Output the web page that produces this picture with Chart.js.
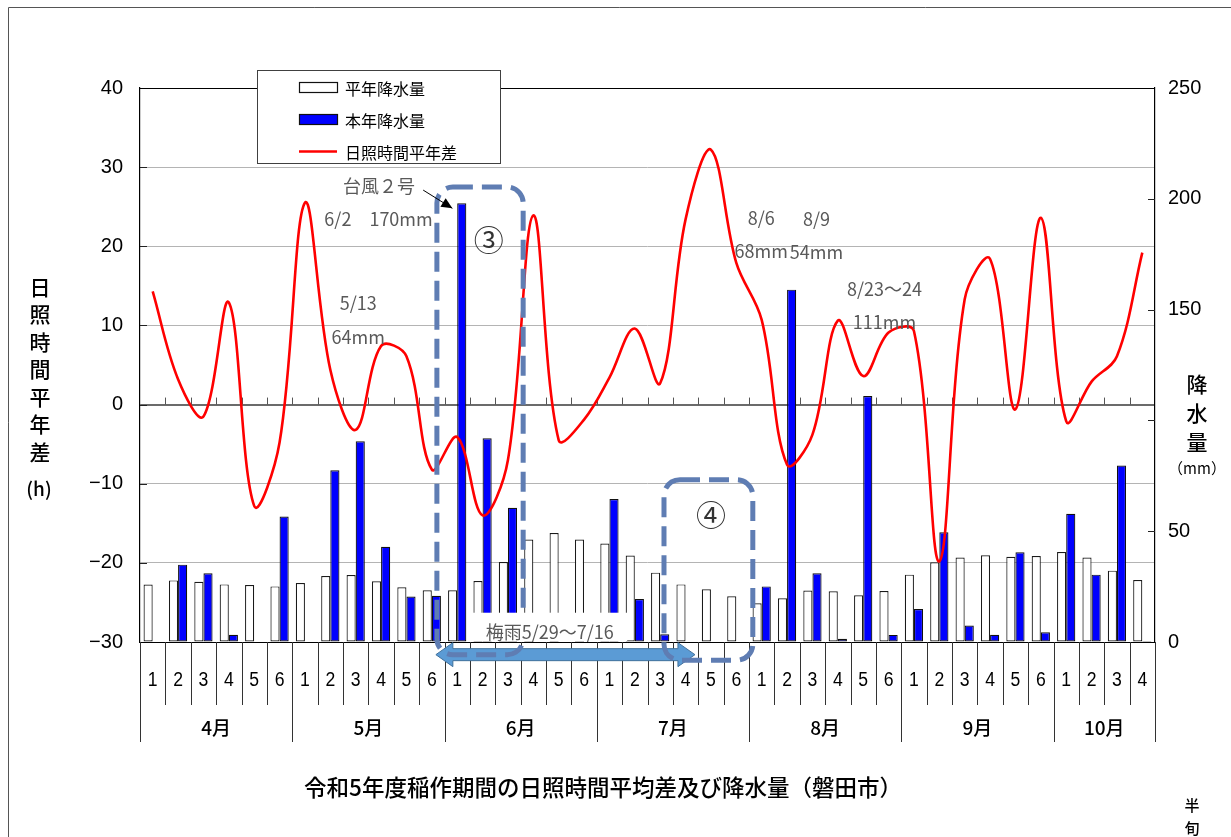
<!DOCTYPE html>
<html lang="ja">
<head>
<meta charset="utf-8">
<title>令和5年度稲作期間の日照時間平均差及び降水量（磐田市）</title>
<script src="https://cdn.jsdelivr.net/npm/chart.js@4.4.1/dist/chart.umd.min.js"></script>
<style>
  html, body { margin: 0; padding: 0; background: #ffffff; }
  #wrap { width: 1231px; height: 837px; position: relative; overflow: hidden; }
  canvas { display: block; }
</style>
</head>
<body>
<div id="wrap"><canvas id="chart" width="1231" height="837"></canvas></div>
<script>
// ---- data: half-month periods (半旬) from April to October ----
const months = ['4月', '5月', '6月', '7月', '8月', '9月', '10月'];
const halvesPerMonth = [6, 6, 6, 6, 6, 6, 4];
const halfLabels = [
  '1','2','3','4','5','6',
  '1','2','3','4','5','6',
  '1','2','3','4','5','6',
  '1','2','3','4','5','6',
  '1','2','3','4','5','6',
  '1','2','3','4','5','6',
  '1','2','3','4'
];
// normal-year precipitation (mm)
const normalRain = [
  25.9, 27.8, 27.2, 26.0, 25.7, 25.1,
  26.6, 29.8, 30.2, 27.4, 24.7, 23.3,
  23.3, 27.5, 36.1, 46.2, 49.2, 46.2,
  44.4, 39.0, 31.3, 26.0, 23.8, 20.6,
  17.5, 19.7, 23.2, 22.9, 21.1, 23.0,
  30.4, 36.0, 38.1, 39.1, 38.5, 38.8,
  40.6, 38.1, 32.2, 28.0
];
// this year's precipitation (mm)
const thisYearRain = [
  0, 34.9, 31.0, 3.3, 0, 56.6,
  0, 77.5, 90.6, 43.0, 20.5, 20.9,
  198, 91.9, 60.6, 0, 0, 0,
  64.5, 19.4, 3.5, 0, 0, 0,
  25.1, 159, 31.0, 1.5, 111, 3.2,
  14.9, 49.5, 7.4, 3.3, 40.5, 4.4,
  57.9, 30.4, 79.6, 0.5
];
// sunshine hours, difference from normal (h)
const sunshineDiff = [
  14.3, 3.2, -1.5, 12.9, -12.8, -4.8,
  25.5, 4.4, -3.2, 7.4, 6.1, -8.2,
  -4.1, -14.0, -7.0, 23.9, -4.5, -1.9,
  3.4, 9.6, 2.7, 23.4, 32.2, 17.9,
  10.7, -7.6, -3.8, 10.6, 3.6, 9.1,
  9.3, -19.8, 13.3, 18.4, -0.6, 23.6,
  -2.1, 2.9, 6.1, 19.2
];
const sunshineTicks = { min: -30, max: 40, step: 10 };
const rainTicks = { min: 0, max: 250, step: 50 };
// the 100 mm label is left out: the axis title sits there
const rainTickLabels = { 0: '0', 50: '50', 150: '150', 200: '200', 250: '250' };

const seriesNames = { normal: '平年降水量', current: '本年降水量', sunshine: '日照時間平年差' };

const FONT_JP = '"Noto Sans CJK JP", "Noto Sans", sans-serif';
const FONT_NUM = '"Liberation Sans", Arial, sans-serif';
const NOTE_GRAY = '#595959';
const BOX_BLUE = '#5f7db3';

// text notes placed in chart units: [category position, hours]
const notes = [
  { text: '台風２号', at: [8.92, 27.6] },
  { text: '6/2　170mm', at: [8.90, 23.4] },
  { text: '5/13', at: [8.10, 12.8] },
  { text: '64mm', at: [8.10, 8.5] },
  { text: '8/6', at: [23.98, 23.6] },
  { text: '68mm', at: [23.98, 19.4] },
  { text: '8/9', at: [26.16, 23.4] },
  { text: '54mm', at: [26.16, 19.2] },
  { text: '8/23〜24', at: [28.84, 14.6] },
  { text: '111mm', at: [28.84, 10.4] }
];

function roundRectPath(ctx, x, y, w, h, r) {
  ctx.beginPath();
  ctx.moveTo(x + r, y);
  ctx.lineTo(x + w - r, y);
  ctx.arcTo(x + w, y, x + w, y + r, r);
  ctx.lineTo(x + w, y + h - r);
  ctx.arcTo(x + w, y + h, x + w - r, y + h, r);
  ctx.lineTo(x + r, y + h);
  ctx.arcTo(x, y + h, x, y + h - r, r);
  ctx.lineTo(x, y + r);
  ctx.arcTo(x, y, x + r, y, r);
  ctx.closePath();
}

const decor = {
  id: 'decor',
  beforeDatasetsDraw(chart) {
    const { ctx, chartArea: a, scales } = chart;
    const cw = (a.right - a.left) / halfLabels.length;
    const y0 = scales.y.getPixelForValue(0);
    ctx.save();
    ctx.strokeStyle = '#555';
    ctx.lineWidth = 1;
    for (let i = 1; i < halfLabels.length; i++) {
      const x = Math.round(a.left + i * cw) + 0.5;
      ctx.beginPath(); ctx.moveTo(x, y0); ctx.lineTo(x, y0 - 7); ctx.stroke();
    }
    ctx.restore();
  },
  afterDraw(chart) {
    const { ctx, chartArea: a, scales } = chart;
    const ys = scales.y, yr = scales.y1, xs = scales.x;
    const n = halfLabels.length;
    const cw = (a.right - a.left) / n;
    const cx = c => xs.getPixelForValue(0) + c * cw;
    const hy = v => ys.getPixelForValue(v);

    ctx.save();
    // plot frame: top and bottom edges
    ctx.strokeStyle = '#000';
    ctx.lineWidth = 1.2;
    ctx.beginPath();
    ctx.moveTo(a.left, Math.round(a.top) + 0.5); ctx.lineTo(a.right, Math.round(a.top) + 0.5);
    ctx.moveTo(a.left, Math.round(a.bottom) + 0.5); ctx.lineTo(a.right, Math.round(a.bottom) + 0.5);
    ctx.stroke();

    // inner ticks on both value axes
    ctx.lineWidth = 1;
    ctx.strokeStyle = '#222';
    for (let v = sunshineTicks.min + sunshineTicks.step; v < sunshineTicks.max; v += sunshineTicks.step) {
      const y = Math.round(hy(v)) + 0.5;
      ctx.beginPath(); ctx.moveTo(a.left, y); ctx.lineTo(a.left + 7, y); ctx.stroke();
    }
    for (let v = rainTicks.min + rainTicks.step; v < rainTicks.max; v += rainTicks.step) {
      const y = Math.round(yr.getPixelForValue(v)) + 0.5;
      ctx.beginPath(); ctx.moveTo(a.right - 7, y); ctx.lineTo(a.right, y); ctx.stroke();
    }

    // category table under the plot
    const rowMid = a.bottom + 63;
    const rowEnd = a.bottom + 100;
    ctx.strokeStyle = '#333';
    ctx.lineWidth = 1;
    const monthEdges = new Set([0]);
    let acc = 0;
    halvesPerMonth.forEach(k => { acc += k; monthEdges.add(acc); });
    for (let i = 0; i <= n; i++) {
      const x = Math.round(a.left + i * cw) + 0.5;
      ctx.beginPath();
      ctx.moveTo(x, a.bottom);
      ctx.lineTo(x, monthEdges.has(i) ? rowEnd : rowMid);
      ctx.stroke();
    }
    ctx.fillStyle = '#000';
    ctx.textAlign = 'center';
    ctx.textBaseline = 'middle';
    ctx.font = '20px ' + FONT_NUM;
    halfLabels.forEach((lab, i) => {
      ctx.save();
      ctx.translate(cx(i), a.bottom + 38);
      ctx.scale(0.88, 1);
      ctx.fillText(lab, 0, 0);
      ctx.restore();
    });
    ctx.font = '500 19px ' + FONT_JP;
    let start = 0;
    months.forEach((m, k) => {
      const mid = a.left + (start + halvesPerMonth[k] / 2) * cw;
      ctx.fillText(m, mid, a.bottom + 86);
      start += halvesPerMonth[k];
    });

    // legend box
    const lg = { x: 257.5, y: 70.5, w: 243, h: 93 };
    ctx.fillStyle = '#fff';
    ctx.fillRect(lg.x, lg.y, lg.w, lg.h);
    ctx.strokeStyle = '#404040';
    ctx.strokeRect(lg.x, lg.y, lg.w, lg.h);
    const ds = chart.data.datasets;
    const byLabel = l => ds.find(d => d.label === l);
    const legendRows = [seriesNames.normal, seriesNames.current, seriesNames.sunshine];
    ctx.textAlign = 'left';
    ctx.font = '16px ' + FONT_JP;
    legendRows.forEach((lab, r) => {
      const d = byLabel(lab);
      const y = lg.y + 17 + r * 32;
      if (d.type === 'line') {
        ctx.strokeStyle = d.borderColor; ctx.lineWidth = 2.5;
        ctx.beginPath(); ctx.moveTo(299, y); ctx.lineTo(337, y); ctx.stroke();
      } else {
        ctx.fillStyle = d.backgroundColor;
        ctx.fillRect(299.5, y - 5, 38, 10);
        ctx.strokeStyle = '#111'; ctx.lineWidth = 1.2;
        ctx.strokeRect(299.5, y - 5, 38, 10);
      }
      ctx.fillStyle = '#000';
      ctx.fillText(lab, 345, y + 1);
    });

    // rainy-season arrow
    const arL = cx(11.16), arR = cx(21.37), arY = hy(-31.6);
    const hl = 17, hh = 12, sh = 6;
    ctx.beginPath();
    ctx.moveTo(arL, arY);
    ctx.lineTo(arL + hl, arY - hh); ctx.lineTo(arL + hl, arY - sh);
    ctx.lineTo(arR - hl, arY - sh); ctx.lineTo(arR - hl, arY - hh);
    ctx.lineTo(arR, arY);
    ctx.lineTo(arR - hl, arY + hh); ctx.lineTo(arR - hl, arY + sh);
    ctx.lineTo(arL + hl, arY + sh); ctx.lineTo(arL + hl, arY + hh);
    ctx.closePath();
    ctx.fillStyle = '#5b9bd5';
    ctx.fill();
    ctx.strokeStyle = '#41719c'; ctx.lineWidth = 1;
    ctx.stroke();

    // dashed outlines around periods ③ and ④
    ctx.setLineDash([20, 9]);
    ctx.lineWidth = 5;
    ctx.strokeStyle = BOX_BLUE;
    const b3 = { l: cx(11.2), r: cx(14.6), t: hy(27.5), b: hy(-31.6) };
    roundRectPath(ctx, b3.l, b3.t, b3.r - b3.l, b3.b - b3.t, 16); ctx.stroke();
    const b4 = { l: cx(20.15), r: cx(23.65), t: hy(-9.5), b: hy(-32.3) };
    roundRectPath(ctx, b4.l, b4.t, b4.r - b4.l, b4.b - b4.t, 16); ctx.stroke();
    ctx.setLineDash([]);

    ctx.fillStyle = '#333';
    ctx.textAlign = 'center';
    ctx.font = '30px ' + FONT_JP;
    ctx.fillText('③', cx(13.24), hy(20.9));
    ctx.fillText('④', cx(22.0), hy(-13.9));

    // rainy season label with white backing
    const tx = cx(15.65), ty = hy(-28.8);
    ctx.fillStyle = '#fff';
    ctx.fillRect(cx(12.45), hy(-26.3), cx(18.7) - cx(12.45), a.bottom - hy(-26.3) - 1);
    ctx.fillStyle = NOTE_GRAY;
    ctx.font = '18px ' + FONT_JP;
    ctx.fillText('梅雨5/29〜7/16', tx, ty);

    // text notes
    notes.forEach(nt => ctx.fillText(nt.text, cx(nt.at[0]), hy(nt.at[1])));

    // pointer from the typhoon note to the June bar
    const p0 = { x: cx(10.66), y: hy(27.1) }, p1 = { x: cx(11.81), y: hy(24.8) };
    ctx.strokeStyle = '#000'; ctx.lineWidth = 1;
    ctx.beginPath(); ctx.moveTo(p0.x, p0.y); ctx.lineTo(p1.x, p1.y); ctx.stroke();
    const ang = Math.atan2(p1.y - p0.y, p1.x - p0.x);
    ctx.beginPath();
    ctx.moveTo(p1.x, p1.y);
    ctx.lineTo(p1.x - 11 * Math.cos(ang) + 5 * Math.sin(ang), p1.y - 11 * Math.sin(ang) - 5 * Math.cos(ang));
    ctx.lineTo(p1.x - 11 * Math.cos(ang) - 5 * Math.sin(ang), p1.y - 11 * Math.sin(ang) + 5 * Math.cos(ang));
    ctx.closePath();
    ctx.fillStyle = '#000'; ctx.fill();

    // axis titles
    ctx.fillStyle = '#000';
    ctx.font = '500 21px ' + FONT_JP;
    Array.from('日照時間平年差').forEach((ch, i) => ctx.fillText(ch, 40, 287 + i * 27.5));
    ctx.font = '500 19px ' + FONT_JP;
    ctx.fillText('(h)', 39, 489);
    ctx.font = '500 21px ' + FONT_JP;
    Array.from('降水量').forEach((ch, i) => ctx.fillText(ch, 1197, 384 + i * 29));
    ctx.font = '15px ' + FONT_JP;
    ctx.fillText('（mm）', 1197, 468);
    ctx.font = '500 15px ' + FONT_JP;
    ctx.fillText('半', 1192, 805);
    ctx.fillText('旬', 1192, 828);

    // chart title
    ctx.font = '500 22.5px ' + FONT_JP;
    ctx.fillText('令和5年度稲作期間の日照時間平均差及び降水量（磐田市）', 603, 787);

    // outer frame
    ctx.strokeStyle = '#555'; ctx.lineWidth = 1;
    ctx.beginPath();
    ctx.moveTo(8.5, chart.height); ctx.lineTo(8.5, 7.5); ctx.lineTo(chart.width, 7.5);
    ctx.stroke();
    ctx.restore();
  }
};

const minusFmt = v => (v < 0 ? '−' + Math.abs(v) : String(v));

new Chart(document.getElementById('chart'), {
  type: 'bar',
  data: {
    labels: halfLabels,
    datasets: [
      {
        type: 'line',
        label: seriesNames.sunshine,
        data: sunshineDiff,
        yAxisID: 'y',
        borderColor: '#ff0000',
        borderWidth: 2.6,
        tension: 0.36,
        pointRadius: 0,
        fill: false,
        order: 0
      },
      {
        label: seriesNames.normal,
        data: normalRain,
        yAxisID: 'y1',
        backgroundColor: '#ffffff',
        borderColor: '#1a1a1a',
        borderWidth: 1.2,
        borderSkipped: false,
        categoryPercentage: 0.72,
        barPercentage: 1,
        order: 1
      },
      {
        label: seriesNames.current,
        data: thisYearRain,
        yAxisID: 'y1',
        backgroundColor: '#0000ff',
        borderColor: '#111111',
        borderWidth: 1.2,
        borderSkipped: false,
        categoryPercentage: 0.72,
        barPercentage: 1,
        order: 1
      }
    ]
  },
  options: {
    responsive: false,
    animation: false,
    devicePixelRatio: 1,
    layout: { padding: { top: 88, bottom: 195, left: 0, right: 0 } },
    plugins: { legend: { display: false }, tooltip: { enabled: false } },
    scales: {
      x: { display: false, offset: true, grid: { display: false } },
      y: {
        position: 'left',
        min: sunshineTicks.min,
        max: sunshineTicks.max,
        ticks: {
          stepSize: sunshineTicks.step,
          color: '#000',
          padding: 17,
          font: { family: FONT_NUM, size: 20 },
          callback: minusFmt
        },
        grid: {
          drawTicks: false,
          color: c => (c.tick.value === 0 ? '#6b6b6b'
            : (c.tick.value === sunshineTicks.max || c.tick.value === sunshineTicks.min) ? 'rgba(0,0,0,0)' : '#b4b4b4'),
          lineWidth: c => (c.tick.value === 0 ? 2 : 1)
        },
        border: { display: true, color: '#000', width: 1.2 },
        afterFit(s) { s.width = 140; }
      },
      y1: {
        position: 'right',
        min: rainTicks.min,
        max: rainTicks.max,
        ticks: {
          stepSize: rainTicks.step,
          color: '#000',
          padding: 13,
          font: { family: FONT_NUM, size: 20 },
          callback: v => (v in rainTickLabels ? rainTickLabels[v] : '')
        },
        grid: { drawOnChartArea: false, drawTicks: false },
        border: { display: true, color: '#000', width: 1.2 },
        afterFit(s) { s.width = 76; }
      }
    }
  },
  plugins: [decor]
});
</script>
</body>
</html>
